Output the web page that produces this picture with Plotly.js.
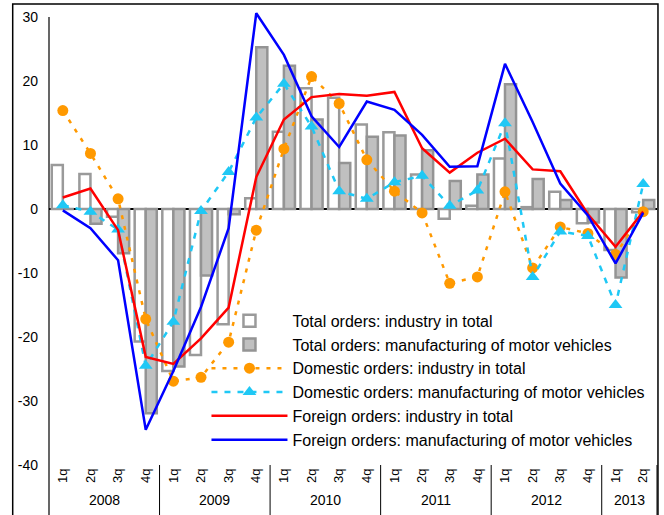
<!DOCTYPE html>
<html>
<head>
<meta charset="utf-8">
<script src="https://cdn.plot.ly/plotly-3.0.1.min.js"></script>
<style>
html,body{margin:0;padding:0;background:#fff;}
#chart{width:664px;height:515px;}
</style>
</head>
<body>
<div id="chart"></div>
<script>
// ---- data ----
var years = ["2008", "2009", "2010", "2011", "2012", "2013"];
var quarters = ["1q","2q","3q","4q","1q","2q","3q","4q","1q","2q","3q","4q","1q","2q","3q","4q","1q","2q","3q","4q","1q","2q"];
var categories = ["2008 1q","2008 2q","2008 3q","2008 4q","2009 1q","2009 2q","2009 3q","2009 4q","2010 1q","2010 2q","2010 3q","2010 4q","2011 1q","2011 2q","2011 3q","2011 4q","2012 1q","2012 2q","2012 3q","2012 4q","2013 1q","2013 2q"];

var totalIndustry = [6.9, 5.5, -1.2, -20.7, -25.3, -22.8, -18.0, 1.7, 12.1, 18.9, 17.4, 13.2, 12.0, 5.4, -1.5, 0.5, 7.9, 0.3, 2.7, -2.2, -6.4, -0.5];
var totalMotor = [0, -2.3, -6.9, -31.9, -24.6, -10.4, -0.8, 25.3, 22.4, 14.0, 7.2, 11.3, 11.5, 9.2, 4.4, 5.4, 19.5, 4.7, 1.4, -2.1, -10.7, 1.4];
var domesticIndustry = [15.4, 8.7, 1.6, -17.2, -26.9, -26.3, -20.8, -3.3, 9.4, 20.7, 16.5, 7.7, 2.8, -0.6, -11.6, -10.6, 2.7, -9.2, -2.8, -3.8, -7.1, -0.4];
var domesticMotor = [0.6, -0.4, -3.2, -24.5, -17.6, -0.3, 5.8, 14.3, 19.6, 12.9, 2.8, 1.6, 4.2, 5.2, 0.5, 2.9, 13.4, -10.6, -3.5, -4.2, -15.0, 3.9];
var foreignIndustry = [1.8, 3.2, -3.3, -23.1, -24.2, -20.2, -15.4, 5.0, 14.0, 17.5, 18.0, 17.7, 18.3, 9.5, 5.7, 8.8, 11.0, 6.2, 5.9, -0.8, -5.9, -0.4];
var foreignMotor = [-0.2, -3.0, -8.0, -34.5, -25.3, -15.3, -3.0, 30.6, 24.1, 14.5, 9.7, 16.8, 15.5, 11.6, 6.6, 6.7, 22.7, 13.6, 4.0, -1.0, -8.5, -0.6];
var seriesNames = [
  "Total orders: industry in total",
  "Total orders: manufacturing of motor vehicles",
  "Domestic orders: industry in total",
  "Domestic orders: manufacturing of motor vehicles",
  "Foreign orders: industry in total",
  "Foreign orders: manufacturing of motor vehicles"
];
var yearCounts = [4, 4, 4, 4, 4, 2];
var yTicks = [-40, -30, -20, -10, 0, 10, 20, 30];
var yTickText = ["-40", "-30", "-20", "-10", "0", "10", "20", "30"];

// ---- traces ----
var FONT = "Liberation Sans, Arial, sans-serif";
var traces = [
  {type:"bar", name:seriesNames[0], x:categories, y:totalIndustry,
   marker:{color:"#ffffff", line:{color:"#9a9a9a", width:2.5}}},
  {type:"bar", name:seriesNames[1], x:categories, y:totalMotor,
   marker:{color:"#c0c0c0", line:{color:"#949494", width:2.5}}},
  {type:"scatter", mode:"lines+markers", name:seriesNames[2], x:categories, y:domesticIndustry,
   line:{color:"#ff9900", width:2.5, dash:"4px,7px"}, marker:{symbol:"circle", size:11, color:"#ff9900"}},
  {type:"scatter", mode:"lines+markers", name:seriesNames[3], x:categories, y:domesticMotor,
   line:{color:"#1fc8f5", width:2.5, dash:"6px,7px"}, marker:{symbol:"triangle-up", size:12, color:"#1fc8f5"}},
  {type:"scatter", mode:"lines", name:seriesNames[4], x:categories, y:foreignIndustry,
   line:{color:"#ff0000", width:2.5}},
  {type:"scatter", mode:"lines", name:seriesNames[5], x:categories, y:foreignMotor,
   line:{color:"#0000ff", width:2.5}}
];

// ---- year labels and separators ----
var annotations = [];
var shapes = [];
var n = categories.length;
var start = 0;
for (var i = 0; i < years.length; i++) {
  var mid = start + (yearCounts[i] - 1) / 2;
  annotations.push({text: years[i], x: mid, xref: "x", y: -0.078, yref: "paper",
    showarrow: false, font: {family: FONT, size: 14, color: "#000"}, xanchor: "center", yanchor: "middle"});
  start += yearCounts[i];
  var px = start / n;
  shapes.push({type: "line", xref: "paper", yref: "paper", x0: px, x1: px, y0: 0, y1: -0.125,
    line: {color: "#000", width: 1}});
}
var yMax = 30.8, yMin = -40;
var top30 = (30 - yMin) / (yMax - yMin);
// y axis line from 30 down to bottom of category area
shapes.push({type: "line", xref: "paper", yref: "paper", x0: 0, x1: 0, y0: -0.125, y1: top30,
  line: {color: "#000", width: 1.2}});
// outer frame
shapes.push({type: "rect", xref: "paper", yref: "paper", x0: -0.0597, x1: 1.0016, y0: -0.2, y1: 1.0177,
  line: {color: "#000", width: 1.5}, fillcolor: "rgba(0,0,0,0)"});

var layout = {
  width: 664, height: 515,
  margin: {l: 49, r: 7, t: 12, b: 50, pad: 0},
  paper_bgcolor: "#ffffff", plot_bgcolor: "#ffffff",
  font: {family: FONT, size: 14, color: "#000"},
  barmode: "group", bargap: 0.2, bargroupgap: 0,
  showlegend: true,
  legend: {x: 0.259, y: 0.356, xanchor: "left", yanchor: "top", bgcolor: "rgba(0,0,0,0)",
    font: {family: FONT, size: 16, color: "#000"}, itemwidth: 76, tracegroupgap: 0, traceorder: "normal"},
  xaxis: {type: "category", range: [-0.5, n - 0.5], tickvals: categories, ticktext: quarters,
    tickangle: -90, showline: false, showgrid: false, zeroline: false, ticks: "",
    tickfont: {family: FONT, size: 13, color: "#000"}, fixedrange: true},
  yaxis: {range: [yMin, yMax], tickvals: yTicks, ticktext: yTickText, showgrid: false, showline: false,
    zeroline: true, zerolinecolor: "#000", zerolinewidth: 1.2, ticks: "", ticklabelstandoff: 10,
    tickfont: {family: FONT, size: 14, color: "#000"}, fixedrange: true},
  annotations: annotations,
  shapes: shapes
};

Plotly.newPlot("chart", traces, layout, {displayModeBar: false, staticPlot: true});
</script>
</body>
</html>
